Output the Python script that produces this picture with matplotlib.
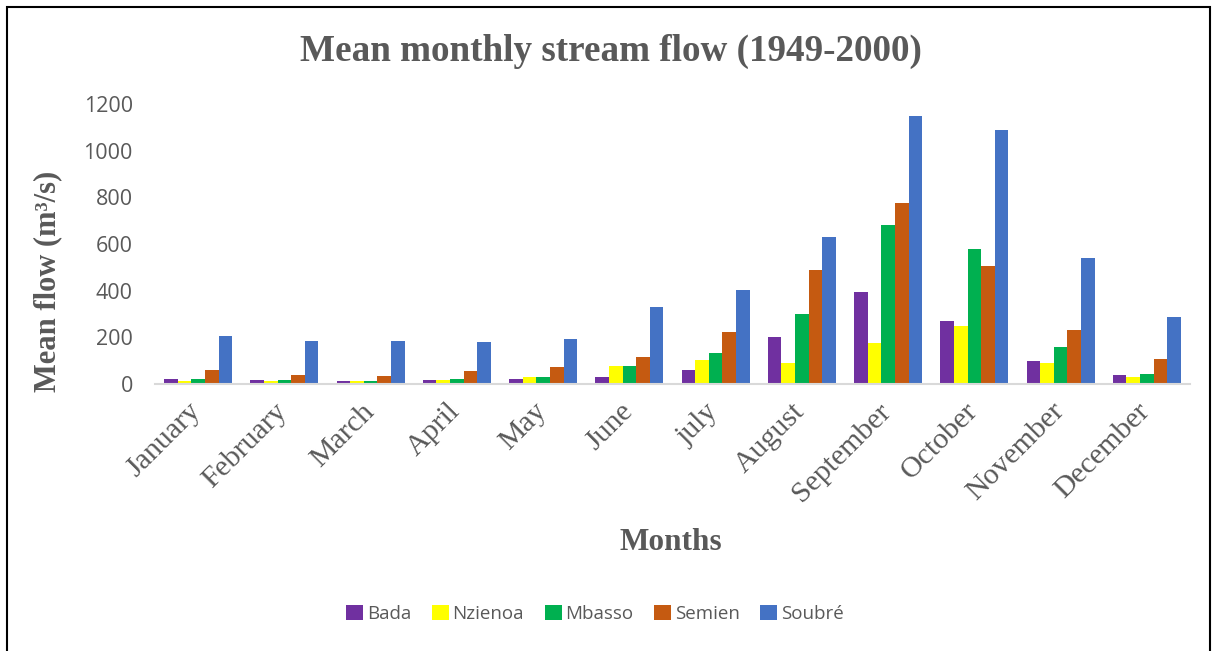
import numpy as np
import matplotlib
matplotlib.use("Agg")
import matplotlib.pyplot as plt
import matplotlib.transforms as mtransforms
from matplotlib.patches import Rectangle

months = ["January", "February", "March", "April", "May", "June",
          "july", "August", "September", "October", "November", "December"]
stations = ["Bada", "Nzienoa", "Mbasso", "Semien", "Soubré"]
bada = [20, 16, 13, 16, 20, 29, 59, 202, 393, 272, 100, 37]
nzienoa = [14, 14, 13, 17, 30, 77, 101, 92, 176, 247, 92, 28]
mbasso = [20, 16, 15, 20, 31, 79, 131, 299, 680, 579, 158, 45]
semien = [59, 40, 36, 54, 72, 114, 221, 489, 776, 504, 231, 108]
soubre = [206, 186, 183, 179, 194, 329, 401, 630, 1150, 1088, 540, 289]
series = [bada, nzienoa, mbasso, semien, soubre]
colors = ["#7030A0", "#FFFF00", "#00B050", "#C55A11", "#4472C4"]

grey = "#595959"
serif = "Liberation Serif"
sans = "Open Sans"

fig = plt.figure(figsize=(12.13, 6.51), dpi=100)
ax = fig.add_axes([155 / 1213, 1 - 384 / 651, (1190 - 155) / 1213, 280 / 651])

x = np.arange(len(months))
w = 0.158
for i, (name, vals) in enumerate(zip(stations, series)):
    ax.bar(x + (i - 2) * w, vals, width=w, color=colors[i], label=name, zorder=2)

ax.set_xlim(-0.5, len(months) - 0.5)
ax.set_ylim(0, 1200)
ax.set_yticks(range(0, 1201, 200))
ax.tick_params(axis="y", length=0, pad=16, labelsize=15.5, labelcolor=grey)
for lab in ax.get_yticklabels():
    lab.set_fontfamily(sans)

ax.set_xticks(x)
ax.set_xticklabels(months, rotation=45, ha="right", rotation_mode="anchor",
                   fontfamily=serif, fontsize=21.5, color=grey)
ax.tick_params(axis="x", length=0, pad=6)
shift = mtransforms.ScaledTranslation(-0.1, -0.06, fig.dpi_scale_trans)
for lab in ax.get_xticklabels():
    lab.set_transform(lab.get_transform() + shift)

for s in ["top", "right", "left"]:
    ax.spines[s].set_visible(False)
ax.spines["bottom"].set_color("#D9D9D9")
ax.spines["bottom"].set_linewidth(1.5)

fig.text(611 / 1213, 1 - 51 / 651, "Mean monthly stream flow (1949-2000)",
         ha="center", va="center", fontfamily=serif, fontweight="bold",
         fontsize=26.7, color=grey)
fig.text(671 / 1213, 1 - 542 / 651, "Months", ha="center", va="center",
         fontfamily=serif, fontweight="bold", fontsize=22.5, color=grey)
fig.text(48 / 1213, 1 - 281 / 651, "Mean flow (m³/s)", ha="center", va="center",
         rotation=90, fontfamily=serif, fontweight="bold", fontsize=22, color=grey)

leg = fig.legend(loc="center", bbox_to_anchor=(595 / 1213, 1 - 614 / 651), ncol=5,
                 frameon=False, handlelength=0.9, handleheight=0.9, handletextpad=0.2,
                 columnspacing=1.1, prop={"family": sans, "size": 13.5})
for t in leg.get_texts():
    t.set_color(grey)

fig.patches.append(Rectangle((7 / 1213, -0.1), 1203 / 1213, 1.1 - 7 / 651,
                             transform=fig.transFigure, fill=False,
                             edgecolor="black", linewidth=1.5))

fig.savefig("out.png", dpi=100)
